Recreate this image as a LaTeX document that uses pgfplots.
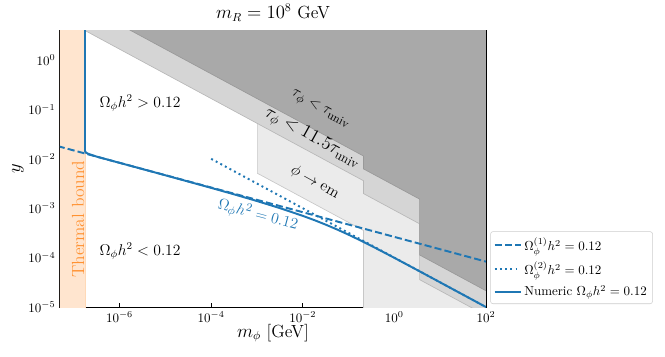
\documentclass[border=0pt]{standalone}
\usepackage{pgfplots}
\pgfplotsset{compat=1.18}
\definecolor{C0}{HTML}{1F77B4}
\definecolor{C1}{HTML}{FF7F0E}
\definecolor{thermal}{HTML}{FFE5CF}
\definecolor{darkreg}{HTML}{A9A9A9}
\definecolor{midreg}{HTML}{D5D5D5}
\definecolor{lightreg}{HTML}{EBEBEB}
\begin{document}
\begin{tikzpicture}
\begin{axis}[
  name=ax,
  at={(0,0)}, anchor=south west,
  scale only axis, width=327.7pt, height=213.1pt,
  xmode=log, ymode=log,
  xmin=5e-8, xmax=100, ymin=1e-5, ymax=4.05,
  xtick={1e-6,1e-4,1e-2,1,100},
  ytick={1e-5,1e-4,1e-3,1e-2,1e-1,1},
  xminorticks=false,
  tick align=inside,
  xtick pos=bottom, ytick pos=left,
  major tick length=3.5pt, minor tick length=2pt,
  tick style={black, line width=0.6pt},
  ticklabel style={font=\fontsize{10}{12}\selectfont},
  xlabel={$m_\phi$ [GeV]}, ylabel={$y$},
  label style={font=\fontsize{13.5}{16}\selectfont},
  xlabel style={at={(axis description cs:0.5,-0.094)}, anchor=center},
  ylabel style={at={(axis description cs:-0.0986,0.5)}, anchor=center},
  axis line style={line width=0.8pt},
  legend style={at={(1.01,0.011)}, anchor=south west, draw=black!20, rounded corners=2pt,
    font=\fontsize{10}{12}\selectfont, cells={anchor=west}, inner sep=2.5pt, row sep=2.5pt},
  legend image code/.code={\draw[#1] (0pt,0pt) -- (20pt,0pt);},
]
% regions
\addplot[fill=lightreg, draw=black!22, line width=0.5pt, forget plot] coordinates {
 (1.022e-3,100) (1.022e-3,5.10e-3) (0.2113,3.553e-4) (0.2113,1e-7) (1000,1e-7) (1000,100)} -- cycle;
\addplot[fill=midreg, draw=black!28, line width=0.5pt, forget plot] coordinates {
 (1e-7,5.248) (0.2113,3.61e-3) (0.2113,1.983e-3) (3.55,4.84e-4) (3.55,3.59e-5) (100,6.76e-6) (1000,6.76e-6) (1000,100) (1e-7,100)} -- cycle;
\addplot[fill=darkreg, draw=black!40, line width=0.5pt, forget plot] coordinates {
 (1e-6,5.248) (0.2113,0.01142) (0.2113,6.27e-3) (3.55,1.531e-3) (3.55,1.135e-4) (100,2.138e-5) (1000,2.138e-5) (1000,100) (1e-6,100)} -- cycle;
\addplot[fill=thermal, draw=C1!30, line width=0.5pt, forget plot] coordinates {
 (1e-9,1e-7) (1.76e-7,1e-7) (1.76e-7,100) (1e-9,100)} -- cycle;
% lines
\addplot[C0, line width=1.5pt, dash pattern=on 5.5pt off 2.4pt] coordinates {(1e-8,0.02630) (100,8.318e-5)};
\addlegendentry{$\Omega^{(1)}_\phi h^2 = 0.12$}
\addplot[C0, line width=1.5pt, dash pattern=on 1.5pt off 2.5pt] coordinates {(1e-4,1e-2) (100,1e-5)};
\addlegendentry{$\Omega^{(2)}_\phi h^2 = 0.12$}
\addplot[C0, line width=1.5pt, line join=round] coordinates {
 (1.76e-7,10) (1.76e-7,0.0145) (1.85e-7,0.0133) (2.2e-7,0.0124) (3.162e-7,0.01108)
 (1e-6,8.30e-3) (1e-5,4.65e-3) (1e-4,2.585e-3) (3.162e-4,1.913e-3) (1e-3,1.400e-3)
 (3.162e-3,1.007e-3) (1e-2,7.02e-4) (1.778e-2,5.76e-4) (3.162e-2,4.66e-4) (5.623e-2,3.715e-4)
 (0.1,2.913e-4) (0.1778,2.254e-4) (0.3162,1.726e-4) (0.5623,1.310e-4) (1,9.90e-5)
 (3.162,5.61e-5) (10,3.157e-5) (31.62,1.778e-5) (100,1.0e-5)};
\addlegendentry{Numeric $\Omega_\phi h^2 = 0.12$}
% annotations
\node[font=\fontsize{11.5}{14}\selectfont] at (axis cs:2.8e-6,0.135) {$\Omega_\phi h^2 > 0.12$};
\node[font=\fontsize{11.5}{14}\selectfont] at (axis cs:2.8e-6,1.36e-4) {$\Omega_\phi h^2 < 0.12$};
\node[font=\fontsize{13.5}{16}\selectfont, text=C1!85, rotate=90] at (axis cs:1.24e-7,6.0e-4) {Thermal bound};
\node[font=\fontsize{13}{15}\selectfont, rotate=-29] at (axis cs:0.0245,0.100) {$\tau_\phi < \tau_{\rm univ}$};
\node[font=\fontsize{14}{16}\selectfont, rotate=-29] at (axis cs:0.0162,0.0262) {$\tau_\phi < 11.5\tau_{\rm univ}$};
\node[font=\fontsize{13}{15}\selectfont, rotate=-29] at (axis cs:0.0185,3.39e-3) {$\phi \to {\rm em}$};
\node[font=\fontsize{13}{15}\selectfont, text=C0, rotate=-15] at (axis cs:1.05e-3,7.28e-4) {$\Omega_\phi h^2 = 0.12$};
\end{axis}
\node[font=\fontsize{13.5}{16}\selectfont, anchor=base, yshift=9pt] at (ax.north) {$m_R = 10^8$ GeV};
\pgfresetboundingbox
\useasboundingbox (-46.15pt,-37.7pt) rectangle (465.4pt,236.2pt);
\end{tikzpicture}
\end{document}
